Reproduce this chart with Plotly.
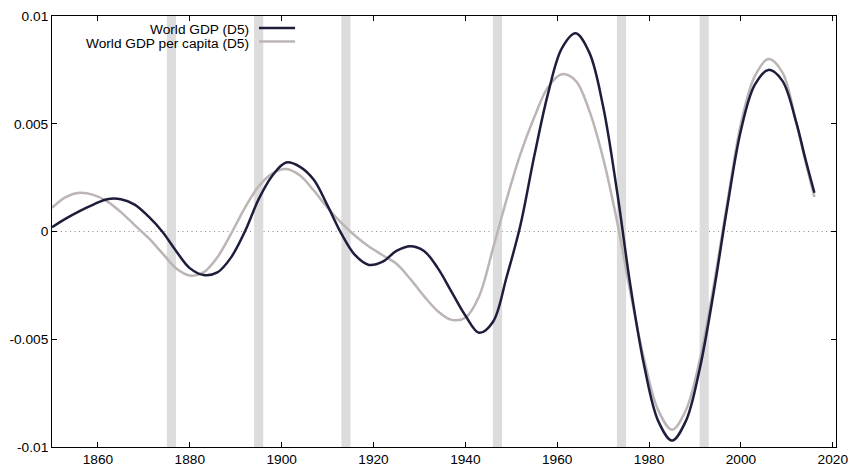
import plotly.graph_objects as go

# ---- data ----
gdp_years = [1850, 1853, 1856, 1859, 1862, 1865, 1868, 1871, 1874, 1877, 1880, 1883, 1886, 1889,
             1892, 1895, 1898, 1901, 1904, 1907, 1910, 1913, 1916, 1919, 1922, 1925, 1928, 1931,
             1934, 1937, 1940, 1943, 1946, 1949, 1952, 1955, 1958, 1961, 1964, 1967, 1970, 1973,
             1976, 1979, 1982, 1985, 1988, 1991, 1994, 1997, 2000, 2003, 2006, 2009, 2012, 2014, 2016]
gdp_values = [0.0002, 0.0006, 0.00095, 0.00125, 0.0015, 0.0015, 0.00125, 0.0007, 0.0, -0.0009,
              -0.0017, -0.00202, -0.0019, -0.0012, 0.0, 0.0015, 0.0026, 0.0032, 0.0030, 0.0024,
              0.0012, -0.0001, -0.0011, -0.00155, -0.0014, -0.0009, -0.00068, -0.0009, -0.0017,
              -0.0028, -0.0039, -0.0047, -0.0042, -0.0021, 0.0003, 0.0035, 0.0064, 0.0085, 0.0092,
              0.0083, 0.0058, 0.0019, -0.0026, -0.0063, -0.0088, -0.0097, -0.0088, -0.0064, -0.0029,
              0.0011, 0.0047, 0.0068, 0.0075, 0.0070, 0.0051, 0.0034, 0.0018]

pc_years = [1850, 1853, 1856, 1859, 1862, 1865, 1868, 1871, 1874, 1877, 1880, 1883, 1886, 1889,
            1892, 1895, 1898, 1901, 1904, 1907, 1910, 1913, 1916, 1919, 1922, 1925, 1928, 1931,
            1934, 1937, 1940, 1943, 1946, 1949, 1952, 1955, 1958, 1961, 1964, 1967, 1970, 1973,
            1976, 1979, 1982, 1985, 1988, 1991, 1994, 1997, 2000, 2003, 2006, 2009, 2012, 2014, 2016]
pc_values = [0.0011, 0.0016, 0.0018, 0.0017, 0.0014, 0.0009, 0.0003, -0.0003, -0.0010, -0.0017,
             -0.00204, -0.0019, -0.0012, -0.0001, 0.0011, 0.0021, 0.0027, 0.0029, 0.0026, 0.0019,
             0.0011, 0.0004, -0.0002, -0.0007, -0.0011, -0.0015, -0.0022, -0.0030, -0.0037, -0.0041,
             -0.0040, -0.0030, -0.0008, 0.0015, 0.0036, 0.0053, 0.0067, 0.0073, 0.0070, 0.0056,
             0.0034, 0.0005, -0.0029, -0.0060, -0.0083, -0.0092, -0.0083, -0.0060, -0.0026, 0.0013,
             0.0050, 0.0072, 0.0080, 0.0074, 0.0051, 0.0033, 0.0016]

band_centers = [1876, 1895, 1914, 1947, 1974, 1992]
band_half_width = 1

x_ticks = [1860, 1880, 1900, 1920, 1940, 1960, 1980, 2000, 2020]
y_ticks = [-0.01, -0.005, 0, 0.005, 0.01]
y_tick_labels = ["-0.01", "-0.005", "0", "0.005", "0.01"]

series_names = ["World GDP (D5)", "World GDP per capita (D5)"]
series_colors = ["#1e1e3c", "#bdb4b6"]
FONT = "Liberation Sans, Arial, sans-serif"

# ---- figure ----
fig = go.Figure()
fig.add_trace(go.Scatter(x=pc_years, y=pc_values, mode="lines", name=series_names[1],
                         line=dict(color=series_colors[1], width=2.5, shape="spline", smoothing=1.0),
                         showlegend=False))
fig.add_trace(go.Scatter(x=gdp_years, y=gdp_values, mode="lines", name=series_names[0],
                         line=dict(color=series_colors[0], width=2.5, shape="spline", smoothing=1.0),
                         showlegend=False))

shapes = [dict(type="line", xref="paper", yref="y", x0=0, x1=1, y0=0, y1=0,
               line=dict(color="#8a8a8a", width=1, dash="1px,3.5px"), layer="below")]
for c in band_centers:
    shapes.append(dict(type="rect", xref="x", yref="paper", x0=c - band_half_width,
                       x1=c + band_half_width, y0=0, y1=1, fillcolor="#dcdcdc",
                       line=dict(width=0), layer="below"))

# legend (gnuplot style: right-aligned text, sample on the right)
annotations = []
leg_y = [0.968, 0.937]
for name, col, yy in zip(series_names, series_colors, leg_y):
    annotations.append(dict(xref="paper", yref="paper", x=0.2535, y=yy, xanchor="right",
                            yanchor="middle", text=name, showarrow=False,
                            font=dict(family=FONT, size=13.7, color="#000")))
    shapes.append(dict(type="line", xref="paper", yref="paper", x0=0.264, x1=0.31, y0=yy + 0.004,
                       y1=yy + 0.004, line=dict(color=col, width=2.5)))

fig.update_layout(
    width=857, height=476,
    margin=dict(l=50, r=17, t=9, b=27),
    paper_bgcolor="white", plot_bgcolor="white",
    font=dict(family=FONT, size=13.7, color="#000"),
    shapes=shapes, annotations=annotations,
    xaxis=dict(range=[1850, 2020.7], tickvals=x_ticks, ticks="inside", ticklen=5,
               tickcolor="#000", showline=True, linecolor="#000", linewidth=1, mirror="allticks",
               showgrid=False, zeroline=False),
    yaxis=dict(range=[-0.01, 0.01], tickvals=y_ticks, ticktext=y_tick_labels, ticks="inside",
               ticklen=5, tickcolor="#000", showline=True, linecolor="#000", linewidth=1,
               mirror="allticks", showgrid=False, zeroline=False),
)

fig.write_html("out.html", config={"displayModeBar": False},
               post_script="document.body.style.margin='0';document.body.style.overflow='hidden';")
